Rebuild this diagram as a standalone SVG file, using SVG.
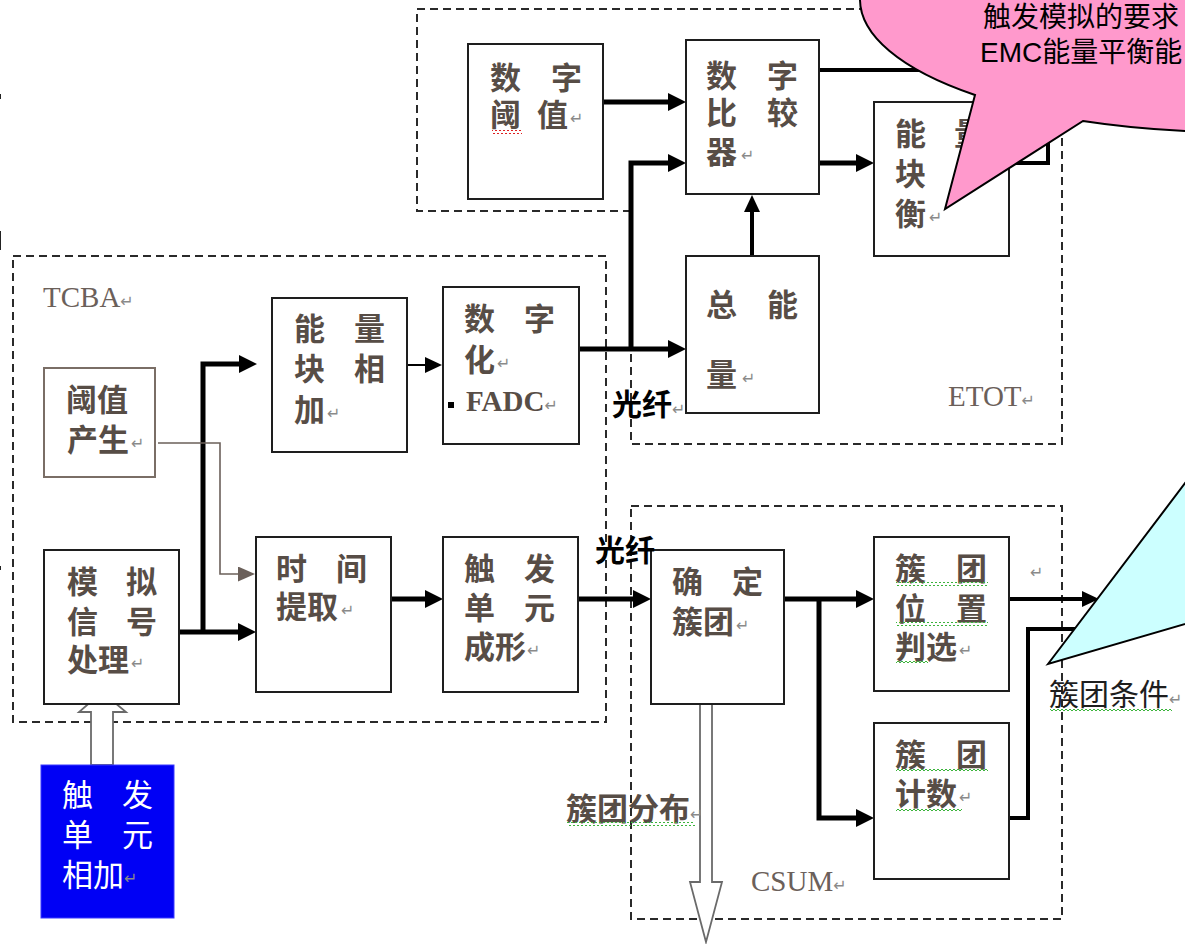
<svg xmlns="http://www.w3.org/2000/svg" width="1185" height="944" viewBox="0 0 1185 944">
<style>
.box{fill:#fff;stroke:#1e1e1e;stroke-width:2}
.dash{fill:none;stroke:#2a2a2a;stroke-width:2;stroke-dasharray:8 5}
.t{font-family:"Liberation Sans","Noto Sans CJK SC","Noto Sans CJK TC",sans-serif;font-size:31px;font-weight:bold;fill:#574d46}
.tw{font-family:"Liberation Sans","Noto Sans CJK SC",sans-serif;font-size:31px;font-weight:normal;fill:#fff}
.tb{font-family:"Liberation Sans","Noto Sans CJK SC",sans-serif;font-size:30px;font-weight:bold;fill:#000}
.tn{font-family:"Liberation Sans","Noto Sans CJK SC",sans-serif;font-size:30px;font-weight:normal;fill:#1e1e1e}
.s{font-family:"Liberation Serif","DejaVu Serif",serif;font-size:29px;fill:#6b605a}
.fs{font-family:"Liberation Serif","DejaVu Serif",serif;font-size:29px;font-weight:bold;fill:#574d46}
.rm{font-family:"DejaVu Sans",sans-serif;font-size:16px;font-weight:normal;fill:#8a8a8a}
.call{font-family:"Liberation Sans","Noto Sans CJK SC",sans-serif;font-size:28px;fill:#000}
.thick{fill:none;stroke:#000;stroke-width:5}
.med{fill:none;stroke:#000;stroke-width:4}
.thin{fill:none;stroke:#000;stroke-width:2}
.gray{fill:none;stroke:#6b605a;stroke-width:1.6}
.hollow{fill:#fff;stroke:#6a6a6a;stroke-width:1.8}
</style>
<defs>
<marker id="aBig" markerUnits="userSpaceOnUse" markerWidth="18" markerHeight="18" refX="8" refY="9" orient="auto"><path d="M0,0 L18,9 L0,18 z" fill="#000"/></marker>
<marker id="aMid" markerUnits="userSpaceOnUse" markerWidth="17" markerHeight="16" refX="8" refY="8" orient="auto"><path d="M0,0 L17,8 L0,16 z" fill="#000"/></marker>
<marker id="aGray" markerUnits="userSpaceOnUse" markerWidth="17" markerHeight="15" refX="8" refY="7.5" orient="auto"><path d="M0,0 L17,7.5 L0,15 z" fill="#6b605a"/></marker>
<pattern id="gw" width="4" height="4" patternUnits="userSpaceOnUse"><path d="M0,3 L2,1 L4,3" fill="none" stroke="#3cb43c" stroke-width="1"/></pattern>
<pattern id="rw" width="4" height="4" patternUnits="userSpaceOnUse"><path d="M0,3 L2,1 L4,3" fill="none" stroke="#e02020" stroke-width="1"/></pattern>
</defs>
<rect width="1185" height="944" fill="#fff"/>

<g id="edge-marks" stroke="#222" stroke-width="2">
<line x1="0" y1="94" x2="0" y2="99"/>
<line x1="0" y1="231" x2="0" y2="250"/>
<line x1="0" y1="566" x2="0" y2="570"/>
</g>

<g id="containers">
<path class="dash" d="M631,211 H417 V9 H870"/>
<path class="dash" d="M631,211 V444 H1062 V120"/>
<rect class="dash" x="13" y="256" width="593" height="466"/>
<rect class="dash" x="631" y="506" width="431" height="413"/>
<text class="s" x="43" y="307">TCBA<tspan class="rm">↵</tspan></text>
<text class="s" x="948" y="406">ETOT<tspan class="rm">↵</tspan></text>
<text class="s" x="751" y="891">CSUM<tspan class="rm">↵</tspan></text>
</g>

<g id="connectors">
<path class="thick" d="M603,102 H676" marker-end="url(#aBig)"/>
<path class="thick" d="M579,349 H676" marker-end="url(#aBig)"/>
<path class="thick" d="M631,349 V163 H676" marker-end="url(#aBig)"/>
<path class="med" d="M752,256 V204" marker-end="url(#aMid)"/>
<path class="thick" d="M819,163 H864" marker-end="url(#aBig)"/>
<path class="med" d="M819,70 H1048 V163 H1009"/>
<path class="thin" d="M393,365 H433" marker-end="url(#aMid)"/>
<path class="thick" d="M179,632 H246" marker-end="url(#aBig)"/>
<path class="thick" d="M203,634 V364 H247" marker-end="url(#aBig)"/>
<path class="gray" d="M158,443 H220 V574 H246" marker-end="url(#aGray)"/>
<path class="thick" d="M391,599 H433" marker-end="url(#aBig)"/>
<path class="thick" d="M578,599 H641" marker-end="url(#aBig)"/>
<path class="thick" d="M784,599 H864" marker-end="url(#aBig)"/>
<path class="thick" d="M819,599 V818 H864" marker-end="url(#aBig)"/>
<path class="med" d="M1009,599 H1090" marker-end="url(#aMid)"/>
<path class="med" d="M1009,818 H1028 V629 H1100"/>
<path class="hollow" d="M700,696 Q706,690 712,696 V882 H722 L706,942 L690,882 H700 Z"/>
<path class="hollow" d="M91,765 V712 H79 L102,692 L126,712 H113 V765 Z"/>
</g>

<g id="n-digital-threshold">
<rect class="box" x="468" y="44" width="135" height="155"/>
<text class="t"><tspan x="490 551" y="89">数字</tspan><tspan x="490 537" y="126">阈值</tspan><tspan class="rm" x="570" y="124">↵</tspan></text>
<rect x="492" y="130" width="30" height="4" fill="url(#rw)"/>
</g>

<g id="n-comparator">
<rect class="box" x="686" y="40" width="133" height="154"/>
<text class="t"><tspan x="706 767" y="87">数字</tspan><tspan x="706 767" y="124">比较</tspan><tspan x="706" y="163">器</tspan><tspan class="rm" x="741" y="161">↵</tspan></text>
</g>

<g id="n-energy-balance">
<rect class="box" x="874" y="102" width="135" height="154"/>
<text class="t"><tspan x="895 954" y="145">能量</tspan><tspan x="895" y="185">块</tspan><tspan x="895" y="225">衡</tspan><tspan class="rm" x="929" y="223">↵</tspan></text>
</g>

<g id="n-total-energy">
<rect class="box" x="686" y="256" width="133" height="157"/>
<text class="t"><tspan x="706 767" y="316">总能</tspan><tspan x="706" y="386">量</tspan><tspan class="rm" x="742" y="384">↵</tspan></text>
</g>

<g id="n-threshold-gen">
<rect x="44" y="368" width="111" height="109" fill="#fff" stroke="#7a6e66" stroke-width="2"/>
<text class="t"><tspan x="66" y="411">阈值</tspan><tspan x="67" y="451">产生</tspan><tspan class="rm" x="131" y="449">↵</tspan></text>
</g>

<g id="n-energy-sum">
<rect class="box" x="272" y="298" width="135" height="154"/>
<text class="t"><tspan x="294 354" y="340">能量</tspan><tspan x="294 354" y="380">块相</tspan><tspan x="294" y="421">加</tspan><tspan class="rm" x="327" y="419">↵</tspan></text>
</g>

<g id="n-fadc">
<rect class="box" x="443" y="287" width="136" height="157"/>
<text class="t"><tspan x="464 524" y="330">数字</tspan><tspan x="464" y="371">化</tspan><tspan class="rm" x="497" y="369">↵</tspan></text>
<rect x="448" y="402" width="6" height="6" fill="#000"/>
<text class="fs" x="466" y="411">FADC<tspan class="rm">↵</tspan></text>
</g>

<g id="n-analog">
<rect class="box" x="44" y="550" width="135" height="154"/>
<text class="t"><tspan x="67 126" y="593">模拟</tspan><tspan x="67 126" y="633">信号</tspan><tspan x="67" y="671">处理</tspan><tspan class="rm" x="131" y="669">↵</tspan></text>
</g>

<g id="n-time">
<rect class="box" x="256" y="537" width="135" height="155"/>
<text class="t"><tspan x="276 336" y="580">时间</tspan><tspan x="276" y="618">提取</tspan><tspan class="rm" x="341" y="616">↵</tspan></text>
</g>

<g id="n-trigger-sum">
<rect x="41" y="765" width="133" height="153" fill="#0000f5" stroke="#3a3aff" stroke-width="1"/>
<text class="tw"><tspan x="62 122" y="806">触发</tspan><tspan x="62 122" y="846">单元</tspan><tspan x="62" y="886">相加</tspan><tspan class="rm" x="124" y="884">↵</tspan></text>
</g>

<g id="n-trigger-shape">
<rect class="box" x="443" y="537" width="135" height="155"/>
<text class="t"><tspan x="464 524" y="580">触发</tspan><tspan x="464 524" y="619">单元</tspan><tspan x="464" y="658">成形</tspan><tspan class="rm" x="527" y="656">↵</tspan></text>
</g>

<g id="n-cluster-find">
<rect class="box" x="651" y="550" width="133" height="154"/>
<text class="t"><tspan x="672 732" y="593">确定</tspan><tspan x="672" y="633">簇团</tspan><tspan class="rm" x="736" y="631">↵</tspan></text>
</g>

<g id="n-cluster-pos">
<rect class="box" x="874" y="537" width="135" height="154"/>
<text class="t"><tspan x="895 956" y="580">簇团</tspan><tspan x="895 956" y="620">位置</tspan><tspan x="895" y="658">判选</tspan><tspan class="rm" x="959" y="656">↵</tspan></text>
<rect x="896" y="582" width="92" height="4" fill="url(#gw)"/>
<rect x="896" y="622" width="92" height="4" fill="url(#gw)"/>
<rect x="896" y="660" width="32" height="4" fill="url(#gw)"/>
</g>

<g id="n-cluster-count">
<rect class="box" x="874" y="723" width="135" height="156"/>
<text class="t"><tspan x="895 956" y="766">簇团</tspan><tspan x="895" y="805">计数</tspan><tspan class="rm" x="959" y="803">↵</tspan></text>
<rect x="896" y="768" width="92" height="4" fill="url(#gw)"/>
<rect x="896" y="807" width="66" height="4" fill="url(#gw)"/>
</g>

<g id="labels">
<text class="tb" x="612" y="415">光纤<tspan class="rm">↵</tspan></text>
<text class="tb" x="595" y="561">光纤</text>
<text class="t" x="566" y="820">簇团分布<tspan class="rm">↵</tspan></text>
<rect x="567" y="822" width="128" height="4" fill="url(#gw)"/>
<text class="rm" x="1030" y="578">↵</text>
<text class="tn" x="1049" y="705">簇团条件<tspan class="rm">↵</tspan></text>
<rect x="1050" y="709" width="122" height="4" fill="url(#gw)"/>
</g>

<g id="callout-pink">
<path d="M860,-2 A370,132 0 0 0 975,95 L945,209 L1083,121 A370,132 0 0 0 1600,0 L1600,-10 L860,-10 Z" fill="#ff99cc" stroke="#000" stroke-width="2"/>
<text class="call"><tspan x="983" y="27">触发模拟的要求</tspan><tspan x="980" y="62">EMC能量平衡能</tspan></text>
</g>

<g id="callout-cyan">
<polygon points="1048,664 1195,470 1195,621" fill="#ccffff" stroke="#000" stroke-width="2"/>
</g>
</svg>
